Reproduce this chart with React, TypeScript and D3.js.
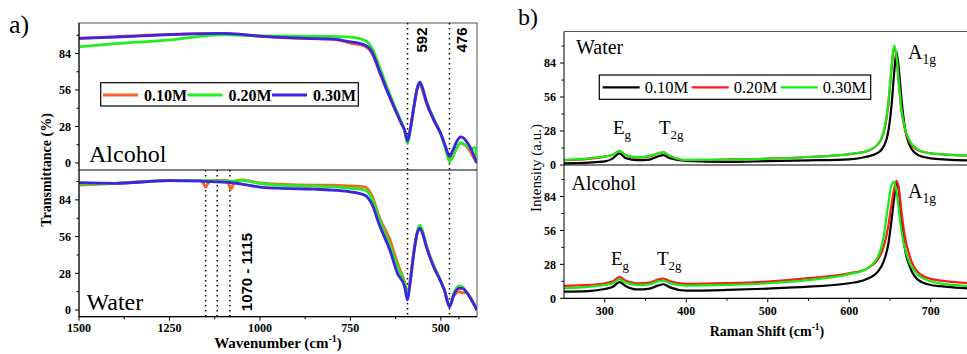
import React from 'react';
import * as d3 from 'd3';

// FTIR (left) - wavenumbers, cm-1
const ftirAlcoholX = [1500, 1400, 1250, 1100, 1000, 870, 800, 750, 710, 690, 670, 650, 630, 610, 600, 592, 585, 575, 565, 558, 550, 540, 520, 500, 485, 476, 468, 455, 445, 430, 415, 405, 400];
const alcohol010 = [95.6, 97, 98.7, 99.5, 97.2, 95.5, 95, 92, 89.5, 84, 70, 56, 43, 31, 25, 17, 25, 42, 57, 60, 55, 46, 33, 22, 10, 2, 5, 12, 15, 13, 7, 2, 0];
const alcohol020 = [89, 91.5, 94.5, 98.5, 97.5, 97.4, 97.2, 96.5, 94, 88, 74, 59, 45, 32, 25, 15, 24, 42, 58, 62, 57, 48, 34, 22, 9, 1, 4, 12, 15.5, 13.5, 11, 12, 0];
const alcohol030 = [95.6, 96.5, 98.5, 99.5, 97.4, 95.6, 95, 93, 90.5, 85, 71, 56.5, 43.5, 31, 25, 17, 25, 42, 57.5, 62, 57, 47, 33.5, 22.5, 11, 5, 9, 17, 20, 17, 10, 3, 0];

const ftirWaterX = [1500, 1400, 1250, 1165, 1155, 1150, 1145, 1135, 1090, 1085, 1080, 1075, 1065, 1050, 1000, 950, 850, 800, 750, 710, 690, 670, 640, 620, 600, 592, 585, 575, 565, 558, 550, 540, 520, 500, 490, 476, 465, 450, 440, 430, 420, 400];
const water010 = [95.3, 96.6, 98.7, 98.7, 96, 93.6, 96, 98.7, 98.8, 95, 92, 95, 98.8, 99.2, 97, 96, 95.3, 95.3, 94.6, 94, 87, 71, 53, 36, 21, 12, 22, 43, 59, 63, 59, 49, 34, 22, 15, 3, 10, 14, 13, 13.5, 10, 0];
const water020 = [96, 96.6, 98.7, 98.7, 98.7, 98.6, 98.6, 98.6, 98.4, 98.4, 98.3, 98.3, 98.6, 99, 96.5, 95.3, 94.5, 94, 92.8, 91.5, 85, 69, 49, 33, 20, 11.5, 22, 43, 60, 64.8, 60, 49, 34, 22, 15, 2.5, 12, 18.3, 17.5, 14, 10, 0];
const water030 = [97.1, 96.6, 98.7, 98.3, 98.2, 98.1, 98, 97.9, 97.4, 97.3, 97.2, 97, 96.7, 96.1, 93.8, 92.9, 92.2, 91.5, 90.2, 87.5, 80.5, 65, 45, 28, 17.8, 7.6, 20, 43, 59, 62.3, 58, 48.3, 33, 21.6, 15, 2.5, 11, 16.5, 16.5, 14, 10, 0];

const ftirMarks = [592, 476];
const ftirWaterMarks = [1150, 1118, 1083];

// Raman (right)
const ramanX = [250, 280, 300, 310, 318, 326, 340, 355, 365, 372, 380, 400, 450, 500, 550, 600, 620, 635, 642, 648, 652, 655, 658, 661, 664, 668, 675, 685, 700, 720, 750];
const ramanWater010 = [1.4, 2, 3, 5.5, 9.6, 5.5, 4, 4.5, 7, 8.2, 5.5, 3.3, 2.5, 3.2, 3.8, 4.7, 6.6, 10, 15, 28, 50, 75, 93.3, 78, 55, 32, 15, 8, 5.5, 4.5, 3.8];
const ramanWater020 = [4, 5, 6.9, 8.5, 11.5, 8, 6, 7, 9.5, 10.4, 7.5, 4, 4.5, 5.2, 6.6, 9, 11, 17, 26, 50, 80, 97, 88, 65, 45, 30, 18, 12, 9.6, 8.5, 7.6];
const ramanWater030 = [4, 5.5, 7, 8.5, 11.5, 8, 6.5, 7.5, 9.5, 10.4, 7.5, 4.2, 4.5, 5.2, 6.6, 9, 11, 17, 27, 52, 82, 98.3, 90, 67, 46, 31, 19, 12.5, 9.6, 8.5, 7.6];
const ramanAlcohol010 = [5.5, 6, 7.7, 9.5, 13.3, 10, 7.3, 8, 10.5, 11.6, 9, 6.3, 6.9, 8, 9.6, 12.4, 15.5, 22, 30, 45, 65, 82, 95, 88, 65, 42, 25, 15, 11, 9.5, 8];
const ramanAlcohol020 = [10.2, 11, 12.4, 14, 17.4, 14.5, 12.4, 13, 15.5, 16.3, 14, 11.9, 12.5, 13.8, 16.6, 20.7, 24, 32, 42, 60, 78, 90, 96.9, 90, 72, 52, 33, 21, 16, 14, 12.4];
const ramanAlcohol030 = [8.3, 9.5, 11, 12.5, 15.7, 13, 11, 11.5, 14, 14.6, 12.5, 10.5, 11, 12.4, 15, 20, 24, 34, 50, 78, 94, 96, 88, 72, 56, 42, 28, 19, 14, 11.5, 10.2];

const legendLabels = ['0.10M', '0.20M', '0.30M'];
const ftirColors = ['#f26522', '#22ee22', '#3f22e6'];
const ramanColors = ['#000000', '#ff1a1a', '#11ee11'];
const yTicks = [0, 28, 56, 84];
const yMinor = [14, 42, 70, 98];

const serif = 'Liberation Serif';
const sans = 'Liberation Sans';

// scales
const xL = d3.scaleLinear().domain([1500, 400]).range([79, 477]);
const yLt = d3.scaleLinear().domain([-5.4, 107.4]).range([170, 23]);
const yLb = d3.scaleLinear().domain([-5.1, 106.8]).range([316.7, 170]);
const xR = d3.scaleLinear().domain([250, 750]).range([564, 971.5]);
const yRt = d3.scaleLinear().domain([0, 110]).range([165, 31.5]);
const yRb = d3.scaleLinear().domain([0, 110]).range([298.3, 165]);

function path(xs, ys, x, y) {
  const line = d3.line().x(d => x(d[0])).y(d => y(d[1])).curve(d3.curveMonotoneX);
  return line(xs.map((v, i) => [v, ys[i]]));
}

function YAxis({ y, x0 }) {
  return (
    <g>
      <line x1={x0} x2={x0} y1={y.range()[0]} y2={y.range()[1]} stroke="#000" />
      {yTicks.map(t => (
        <g key={t}>
          <line x1={x0 - 4} x2={x0} y1={y(t)} y2={y(t)} stroke="#000" />
          <text x={x0 - 8} y={y(t)} dy="0.35em" textAnchor="end" fontFamily={serif} fontWeight="bold" fontSize={12}>{t}</text>
        </g>
      ))}
      {yMinor.map(t => (
        <line key={t} x1={x0 - 2.5} x2={x0} y1={y(t)} y2={y(t)} stroke="#000" />
      ))}
    </g>
  );
}

function XAxis({ x, y0, ticks, minor, dy }) {
  return (
    <g>
      <line x1={x.range()[0]} x2={x.range()[1]} y1={y0} y2={y0} stroke="#000" strokeWidth={1.2} />
      {ticks.map(t => (
        <g key={t}>
          <line x1={x(t)} x2={x(t)} y1={y0} y2={y0 + 4} stroke="#000" />
          <text x={x(t)} y={y0 + dy} textAnchor="middle" fontFamily={serif} fontWeight="bold" fontSize={12}>{t}</text>
        </g>
      ))}
      {minor.map(t => (
        <line key={t} x1={x(t)} x2={x(t)} y1={y0} y2={y0 + 2.5} stroke="#000" />
      ))}
    </g>
  );
}

function Sub({ x, y, main, sub, size }) {
  return (
    <text x={x} y={y} fontFamily={serif} fontSize={size}>
      {main}
      <tspan fontSize={size * 0.68} dy={size * 0.25}>{sub}</tspan>
    </text>
  );
}

export default function App() {
  const W = 967, H = 354;
  return (
    <svg width={W} height={H} style={{ position: 'absolute', left: 0, top: 0, background: '#fff' }}>
      <defs>
        <clipPath id="cLt"><rect x={79} y={23} width={398} height={147} /></clipPath>
        <clipPath id="cLb"><rect x={79} y={170} width={398} height={146.7} /></clipPath>
        <clipPath id="cRt"><rect x={564} y={31.5} width={410} height={133.5} /></clipPath>
        <clipPath id="cRb"><rect x={564} y={165} width={410} height={133.3} /></clipPath>
      </defs>

      {/* ===== left panel (FTIR) ===== */}
      <text x={9} y={33} fontFamily={serif} fontSize={26}>a)</text>
      <rect x={79} y={23} width={398} height={293.7} fill="none" stroke="#555" />
      <line x1={79} x2={477} y1={170} y2={170} stroke="#000" strokeWidth={1.2} />

      {ftirMarks.map(m => (
        <line key={m} x1={xL(m)} x2={xL(m)} y1={23} y2={316.7} stroke="#000" strokeWidth={1.5} strokeDasharray="1.5,3.5" />
      ))}
      {ftirWaterMarks.map(m => (
        <line key={m} x1={xL(m)} x2={xL(m)} y1={170} y2={316.7} stroke="#000" strokeWidth={1.5} strokeDasharray="1.5,3.5" />
      ))}

      <g clipPath="url(#cLt)" fill="none" strokeWidth={2.8}>
        {[alcohol010, alcohol020, alcohol030].map((s, i) => (
          <path key={i} d={path(ftirAlcoholX, s, xL, yLt)} stroke={ftirColors[i]} />
        ))}
      </g>
      <g clipPath="url(#cLb)" fill="none" strokeWidth={2.8}>
        {[water010, water020, water030].map((s, i) => (
          <path key={i} d={path(ftirWaterX, s, xL, yLb)} stroke={ftirColors[i]} />
        ))}
      </g>

      <YAxis y={yLt} x0={79} />
      <YAxis y={yLb} x0={79} />
      <XAxis x={xL} y0={316.7} dy={15.5} ticks={[1500, 1250, 1000, 750, 500]} minor={[1375, 1125, 875, 625, 450]} />

      <text x={89} y={162} fontFamily={serif} fontSize={24}>Alcohol</text>
      <text x={86.5} y={310} fontFamily={serif} fontSize={24}>Water</text>

      <text transform={`translate(${xL(592) + 14},40) rotate(-90)`} textAnchor="middle" dy="0.35em" fontFamily={sans} fontWeight="bold" fontSize={15}>592</text>
      <text transform={`translate(${xL(476) + 12},40) rotate(-90)`} textAnchor="middle" dy="0.35em" fontFamily={sans} fontWeight="bold" fontSize={15}>476</text>
      <text transform={`translate(${xL(1083) + 16.5},272) rotate(-90)`} textAnchor="middle" dy="0.35em" fontFamily={sans} fontWeight="bold" fontSize={15}>1070 - 1115</text>

      {/* legend left */}
      <rect x={100.7} y={82.7} width={257.6} height={23.3} fill="#fff" stroke="#000" strokeWidth={1.2} />
      {legendLabels.map((l, i) => (
        <g key={l} transform={`translate(${103 + i * 84.5},0)`}>
          <line x1={0} x2={35} y1={95} y2={95} stroke={ftirColors[i]} strokeWidth={2.8} />
          <text x={41} y={95} dy="0.35em" fontFamily={serif} fontWeight="bold" fontSize={16}>{l}</text>
        </g>
      ))}

      <text transform="translate(46,170) rotate(-90)" textAnchor="middle" dy="0.35em" fontFamily={serif} fontWeight="bold" fontSize={14}>Transmittance (%)</text>
      <text x={278} y={348} textAnchor="middle" fontFamily={serif} fontWeight="bold" fontSize={15}>
        Wavenumber (cm<tspan fontSize={10} dy={-6}>-1</tspan><tspan dy={6}>)</tspan>
      </text>

      {/* ===== right panel (Raman) ===== */}
      <text x={518} y={25} fontFamily={serif} fontSize={24}>b)</text>
      <line x1={564} x2={972} y1={31.5} y2={31.5} stroke="#555" />
      <line x1={564} x2={972} y1={165} y2={165} stroke="#000" strokeWidth={1.2} />

      <g clipPath="url(#cRt)" fill="none" strokeWidth={2.2}>
        {[ramanWater010, ramanWater020, ramanWater030].map((s, i) => (
          <path key={i} d={path(ramanX, s, xR, yRt)} stroke={ramanColors[i]} />
        ))}
      </g>
      <g clipPath="url(#cRb)" fill="none" strokeWidth={2.2}>
        {[ramanAlcohol010, ramanAlcohol020, ramanAlcohol030].map((s, i) => (
          <path key={i} d={path(ramanX, s, xR, yRb)} stroke={ramanColors[i]} />
        ))}
      </g>

      <YAxis y={yRt} x0={564} />
      <YAxis y={yRb} x0={564} />
      <XAxis x={xR} y0={298.3} dy={17} ticks={[300, 400, 500, 600, 700]} minor={[350, 450, 550, 650]} />

      <text x={576} y={54} fontFamily={serif} fontSize={20}>Water</text>
      <text x={571.5} y={190} fontFamily={serif} fontSize={20}>Alcohol</text>

      <Sub x={613} y={134} main="E" sub="g" size={19} />
      <Sub x={659} y={134} main="T" sub="2g" size={19} />
      <Sub x={908} y={59} main="A" sub="1g" size={20} />
      <Sub x={611} y={265} main="E" sub="g" size={19} />
      <Sub x={657} y={265} main="T" sub="2g" size={19} />
      <Sub x={908} y={198} main="A" sub="1g" size={20} />

      {/* legend right */}
      <rect x={599.3} y={75} width={271.4} height={24.3} fill="#fff" stroke="#000" strokeWidth={1.2} />
      {legendLabels.map((l, i) => (
        <g key={l} transform={`translate(${602.7 + i * 89},0)`}>
          <line x1={0} x2={37} y1={87.3} y2={87.3} stroke={ramanColors[i]} strokeWidth={2.2} />
          <text x={42} y={87.3} dy="0.35em" fontFamily={serif} fontSize={16.5}>{l}</text>
        </g>
      ))}

      <text transform="translate(536,168) rotate(-90)" textAnchor="middle" dy="0.35em" fontFamily={serif} fontSize={15}>Intensity (a.u.)</text>
      <text x={767} y={336} textAnchor="middle" fontFamily={serif} fontWeight="bold" fontSize={14}>
        Raman Shift (cm<tspan fontSize={9.5} dy={-6}>-1</tspan><tspan dy={6}>)</tspan>
      </text>
    </svg>
  );
}
